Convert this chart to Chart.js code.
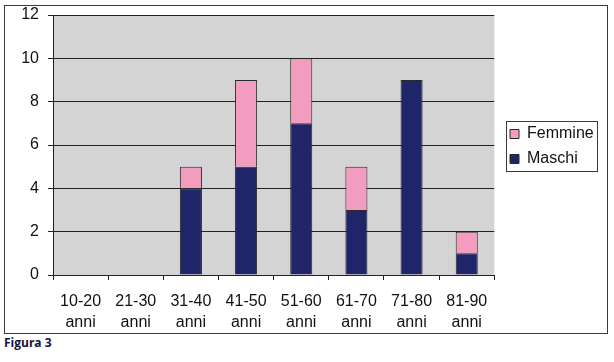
<!DOCTYPE html>
<html>
<head>
<meta charset="utf-8">
<script src="https://cdn.jsdelivr.net/npm/chart.js@4"></script>
<style>
  body { margin: 0; background: #fff; width: 614px; height: 362px; position: relative; }
  #box { position: absolute; left: 4px; top: 5px; width: 602px; height: 327px; border: 1px solid #3a3a3a; }
  #caption { position: absolute; left: 4px; top: 334px; font: bold 12px "Open Sans", sans-serif; color: #14143c; }
</style>
</head>
<body>
<div id="box"><canvas id="chart-area" width="602" height="327"></canvas></div>
<div id="caption">Figura 3</div>
<script>
// data
var categories = [["10-20", "anni"], ["21-30", "anni"], ["31-40", "anni"], ["41-50", "anni"],
                  ["51-60", "anni"], ["61-70", "anni"], ["71-80", "anni"], ["81-90", "anni"]];
var maschi  = [0, 0, 4, 5, 7, 3, 9, 1];
var femmine = [0, 0, 1, 4, 3, 2, 0, 1];
var yTicks = [0, 2, 4, 6, 8, 10, 12];

//Plot background + legend frame
var plotBg = {
  id: "plotBg",
  beforeDraw: function(chart) {
    var a = chart.chartArea, c = chart.ctx;
    c.save();
    c.fillStyle = "#d4d4d4";
    c.fillRect(a.left, a.top, a.right - a.left, a.bottom - a.top);
    c.restore();
  },
  afterLayout: function(chart) {
    // move the legend into its framed spot
    var lg = chart.legend;
    lg.left = 496;
    lg.top = 111;
  },
  afterDraw: function(chart) {
    var c = chart.ctx;
    c.save();
    c.strokeStyle = "#3a3a3a";
    c.lineWidth = 1;
    c.strokeRect(501.5, 115.5, 91, 50);
    c.restore();
  }
};

var config = {
  type: "bar",
  data: {
    labels: categories,
    datasets: [
      { label: "Maschi", data: maschi, backgroundColor: "#202468", borderColor: "#2a2a2a", borderWidth: 1 },
      { label: "Femmine", data: femmine, backgroundColor: "#f29cc0", borderColor: "#2a2a2a", borderWidth: 1 }
    ]
  },
  options: {
    responsive: false,
    animation: false,
    devicePixelRatio: 1,
    layout: { padding: { top: 9, right: 10, bottom: 0, left: 0 } },
    datasets: { bar: { categoryPercentage: 1, barPercentage: 0.4 } },
    plugins: {
      tooltip: { enabled: false },
      legend: {
        position: "right",
        align: "start",
        reverse: true,
        labels: {
          boxWidth: 9, boxHeight: 9, padding: 9,
          color: "#111",
          font: { family: "'Liberation Sans', Arial, sans-serif", size: 16 }
        }
      }
    },
    scales: {
      x: {
        stacked: true,
        grid: { offset: true, drawOnChartArea: false, tickLength: 5, color: "#222" },
        border: { color: "#222" },
        ticks: {
          color: "#111", padding: 11,
          font: { family: "'Liberation Sans', Arial, sans-serif", size: 16, lineHeight: 1.3 }
        },
        afterFit: function(s) { s.height = 58; }
      },
      y: {
        stacked: true,
        min: 0, max: 12,
        afterBuildTicks: function(s) { s.ticks = yTicks.map(function(v) { return { value: v }; }); },
        grid: { tickLength: 5, color: "#222" },
        border: { color: "#222" },
        ticks: {
          color: "#111", padding: 9,
          font: { family: "'Liberation Sans', Arial, sans-serif", size: 16 }
        },
        afterFit: function(s) { s.width = 48; s.paddingTop = 0; s.paddingBottom = 0; }
      }
    }
  },
  plugins: [plotBg]
};

var ctx = document.getElementById("chart-area").getContext("2d");
var myChart = new Chart(ctx, config);
</script>
</body>
</html>
